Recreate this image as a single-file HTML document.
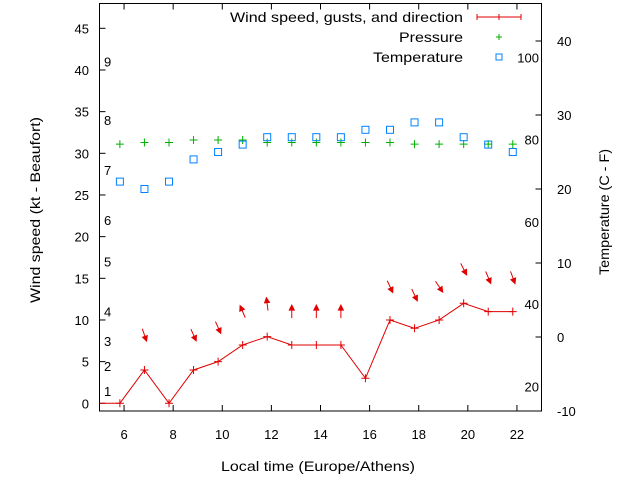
<!DOCTYPE html>
<html><head><meta charset="utf-8"><style>
html,body{margin:0;padding:0;background:#fff;}
svg{display:block;font-family:"Liberation Sans",sans-serif;font-size:13px;}
.big{font-size:14px;}
</style></head><body>
<svg id="chart" width="640" height="480" xmlns="http://www.w3.org/2000/svg">
<rect x="0" y="0" width="640" height="480" fill="#fff"/>
<g id="axes"></g><g id="marks"></g>
<text class="big" transform="translate(40,210) rotate(-90)" text-anchor="middle" textLength="186" lengthAdjust="spacingAndGlyphs">Wind speed (kt - Beaufort)</text>
<text class="big" transform="translate(609,212) rotate(-90)" text-anchor="middle" textLength="126" lengthAdjust="spacingAndGlyphs">Temperature (C - F)</text>
<text class="big" x="318" y="471" text-anchor="middle" textLength="194" lengthAdjust="spacingAndGlyphs">Local time (Europe/Athens)</text>
<g>
<text class="big" x="463" y="22" text-anchor="end" textLength="233" lengthAdjust="spacingAndGlyphs">Wind speed, gusts, and direction</text>
<path d="M477,17H521M477,14V20M499,14V20M521,14V20" stroke="#e00000" fill="none"/>
<text class="big" x="463" y="42" text-anchor="end" textLength="64" lengthAdjust="spacingAndGlyphs">Pressure</text>
<path d="M496,37H502M499,34V40" stroke="#00b000"/>
<text class="big" x="463" y="62" text-anchor="end" textLength="90" lengthAdjust="spacingAndGlyphs">Temperature</text>
<rect x="496" y="54" width="6" height="6" fill="none" stroke="#0080ff"/>
</g>
</svg>
<script>
const times=[5.83,6.83,7.83,8.83,9.83,10.83,11.83,12.83,13.83,14.83,15.83,16.83,17.83,18.83,19.83,20.83,21.83];
const wind=[0,4,0,4,5,7,8,7,7,7,3,10,9,10,12,11,11];
const pressure=[31.1,31.3,31.3,31.6,31.6,31.6,31.3,31.3,31.3,31.3,31.3,31.3,31.1,31.1,31.1,31.1,31.1];
const temperature=[21,20,21,24,25,26,27,27,27,27,28,28,29,29,27,26,25];
const arrowLevel=[null,8.2,null,8.2,9.1,11,11.9,11,11,11,null,14,13,14,16.1,15.1,15.1];
const windFrom=[null,341,null,336,336,157,173,180,180,180,null,335,335,326,333,337,340];
const xTicks=[6,8,10,12,14,16,18,20,22];
const yTicks=[0,5,10,15,20,25,30,35,40,45];
const y2Ticks=[-10,0,10,20,30,40];
const beaufort=[["1",1.5],["2",4.5],["3",7.5],["4",11],["5",17],["6",22],["7",28],["8",34],["9",41]];
const fahrenheit=[20,40,60,80,100];

const L=99.5,R=541.5,T=3.5,B=411;
const X=t=>L+(t-5)*(R-L)/18;
const Y=v=>403.3-v*8.333;
const Y2=c=>337-c*7.4;
const NS="http://www.w3.org/2000/svg";
function mk(tag,attrs,parent,txt){const e=document.createElementNS(NS,tag);for(const k in attrs)e.setAttribute(k,attrs[k]);if(txt!==undefined)e.textContent=txt;parent.appendChild(e);return e;}
const ax=document.getElementById('axes'),mg=document.getElementById('marks');
let e;
e=mk('rect',{x:L,y:T,width:R-L,height:B-T,fill:'none',stroke:'#000'},ax);


xTicks.forEach(t=>{const x=X(t);
 e=mk('path',{d:`M${x},${B}v-6M${x},${T}v6`,stroke:'#000'},ax);
 
 
 e=mk('text',{x:x,y:439,'text-anchor':'middle'},ax,String(t));
 
 });
yTicks.forEach(v=>{const y=Y(v);
 e=mk('path',{d:`M${L},${y}h6`,stroke:'#000'},ax);
 
 
 e=mk('text',{x:89,y:y+5,'text-anchor':'end'},ax,String(v));
 
 });
y2Ticks.forEach(c=>{const y=Y2(c);
 e=mk('path',{d:`M${R},${y}h-6`,stroke:'#000'},ax);
 
 
 e=mk('text',{x:557,y:y+5},ax,String(c));
 
 });
beaufort.forEach(b=>{
 e=mk('text',{x:104,y:Y(b[1])+5},ax,b[0]);
 
 });
fahrenheit.forEach(f=>{
 e=mk('text',{x:539,y:Y2((f-32)/1.8)+5,'text-anchor':'end'},ax,String(f));
 
 });
let d=`M${L},${Y(0)}`;times.forEach((t,i)=>{d+=`L${X(t)},${Y(wind[i])}`;});
e=mk('path',{d:d,stroke:'#e00000',fill:'none'},mg);


times.forEach((t,i)=>{const x=X(t),y=Y(wind[i]);
 e=mk('path',{d:`M${x-4},${y}h8M${x},${y-4}v8`,stroke:'#e00000'},mg);
 
 
 const p=Y(pressure[i]);
 e=mk('path',{d:`M${x-4},${p}h8M${x},${p-4}v8`,stroke:'#00b000'},mg);
 
 
 const ty=Y2(temperature[i]);
 e=mk('rect',{x:x-3.5,y:ty-3.5,width:7,height:7,fill:'none',stroke:'#0080ff'},mg);
 
 
 if(windFrom[i]!==null){
  const to=(windFrom[i]+180)*Math.PI/180,len=13;
  const cy=Y(arrowLevel[i]);
  const dx=Math.sin(to)*len/2,dy=-Math.cos(to)*len/2;
  const hx=x+dx,hy=cy+dy,tx=x-dx,ty2=cy-dy;
  const ux=dx/(len/2),uy=dy/(len/2);
  const a1x=hx-ux*5-uy*2.5,a1y=hy-uy*5+ux*2.5,a2x=hx-ux*5+uy*2.5,a2y=hy-uy*5-ux*2.5;
  e=mk('path',{d:`M${tx},${ty2}L${hx},${hy}M${a1x},${a1y}L${hx},${hy}L${a2x},${a2y}Z`,stroke:'#e00000',fill:'#e00000'},mg);
  
  
 }
});
</script>
</body></html>
